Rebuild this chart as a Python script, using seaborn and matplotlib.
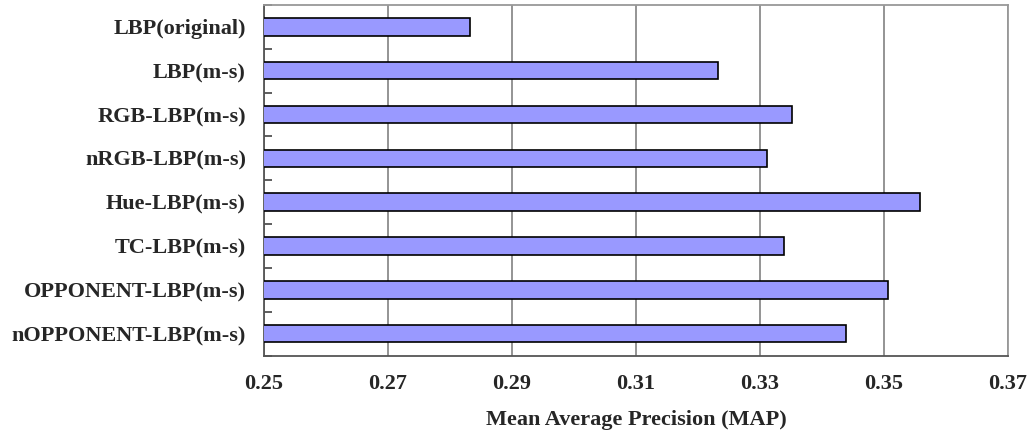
import matplotlib
matplotlib.use("Agg")
import matplotlib.pyplot as plt
import seaborn as sns
import pandas as pd
import numpy as np
from matplotlib.ticker import FixedLocator

categories = ["LBP(original)", "LBP(m-s)", "RGB-LBP(m-s)", "nRGB-LBP(m-s)",
              "Hue-LBP(m-s)", "TC-LBP(m-s)", "OPPONENT-LBP(m-s)", "nOPPONENT-LBP(m-s)"]
map_values = [0.2833, 0.3232, 0.3352, 0.3311, 0.3558, 0.3338, 0.3506, 0.3438]
x_ticks = [0.25, 0.27, 0.29, 0.31, 0.33, 0.35, 0.37]

sns.set_style("white")
plt.rcParams["font.family"] = ["Liberation Serif", "DejaVu Serif"]
plt.rcParams["font.weight"] = "bold"

df = pd.DataFrame({"method": categories, "MAP": map_values})

fig = plt.figure(figsize=(10.3, 4.32), dpi=100)
ax = fig.add_axes([264/1030, 1-355.5/432, (1008-264)/1030, (355.5-5)/432])

sns.barplot(data=df, y="method", x="MAP", orient="h", order=categories,
            color="#9999FF", saturation=1, width=0.4, edgecolor="black",
            linewidth=1.2, ax=ax, zorder=3)

ax.set_xlim(0.25, 0.37)
ax.set_ylim(len(categories) - 0.5, -0.5)
ax.set_xticks(x_ticks)
ax.set_xticklabels([f"{t:.2f}" for t in x_ticks], fontsize=16, fontweight="bold")
ax.set_yticklabels(categories, fontsize=16, fontweight="bold")
ax.xaxis.grid(True, color="#777777", linewidth=1.1, zorder=0)
ax.yaxis.grid(False)
ax.set_axisbelow(True)

ax.tick_params(axis="x", length=0, pad=13)
ax.tick_params(axis="y", which="major", length=0, pad=13)
ax.yaxis.set_minor_locator(FixedLocator(np.arange(-0.5, len(categories), 1.0)))
ax.tick_params(axis="y", which="minor", direction="in", length=6, width=1.1,
               color="#333333", left=True)

ax.set_ylabel("")
ax.set_xlabel("Mean Average Precision (MAP)", fontsize=16, fontweight="bold", labelpad=12)

for side in ["top", "right"]:
    ax.spines[side].set_color("#999999")
    ax.spines[side].set_linewidth(1.3)
for side in ["left", "bottom"]:
    ax.spines[side].set_color("#555555")
    ax.spines[side].set_linewidth(1.3)
    ax.spines[side].set_visible(True)

fig.savefig("out.png", dpi=100)
